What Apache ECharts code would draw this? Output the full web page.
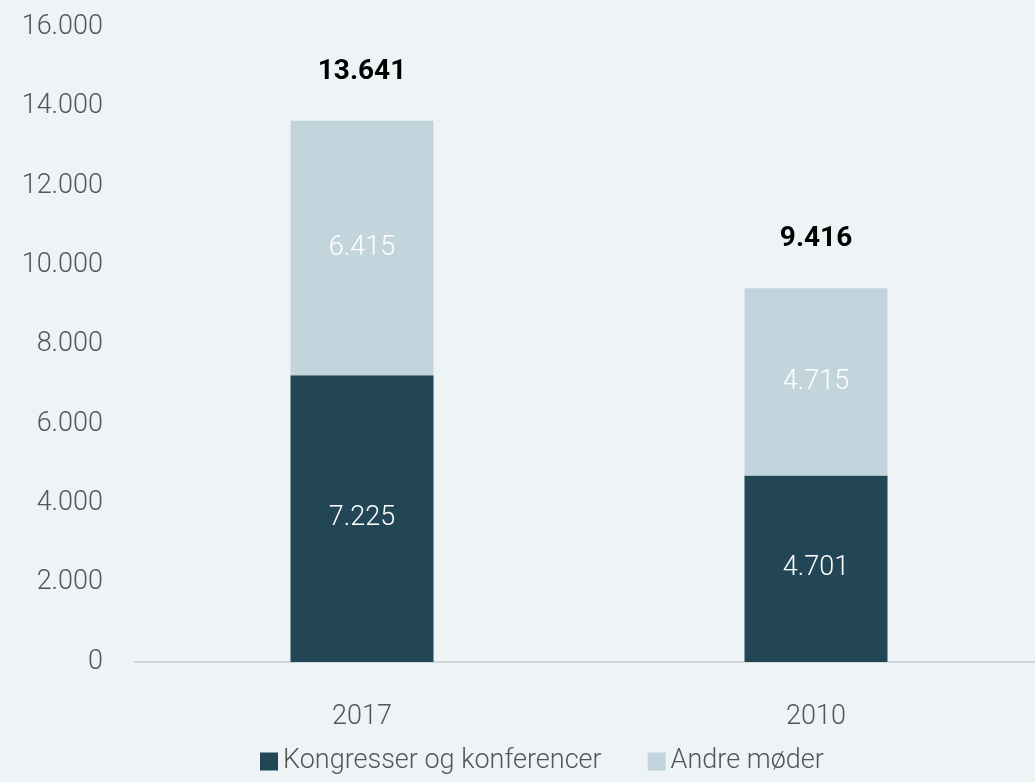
<!DOCTYPE html>
<html>
<head>
<meta charset="utf-8">
<script src="https://cdn.jsdelivr.net/npm/echarts@6/dist/echarts.min.js"></script>
<style>
  html, body { margin: 0; padding: 0; background: #eef3f6; }
  #chart { width: 1035px; height: 782px; }
</style>
</head>
<body>
<div id="chart"></div>
<script>
const years = ['2017', '2010']
const kongresser = [7225, 4701]
const andre = [6415, 4715]
const totals = [13641, 9416]
const yTicks = [0, 2000, 4000, 6000, 8000, 10000, 12000, 14000, 16000]

// dansk tusindtalsseparator
const fmt = v => String(v).replace(/\B(?=(\d{3})+(?!\d))/g, '.')

const font = 'Roboto, "Noto Sans", sans-serif'

const chart = echarts.init(document.getElementById('chart'))
chart.setOption({
  backgroundColor: '#eef3f6',
  animation: false,
  textStyle: { fontFamily: font },
  grid: { left: 135, width: 908, top: 27, bottom: 120, containLabel: false, outerBoundsMode: 'none' },
  legend: {
    bottom: 2,
    left: 255,
    itemWidth: 18,
    itemHeight: 18,
    itemGap: 46,
    icon: 'rect',
    textStyle: { fontSize: 27, color: '#555', fontWeight: 300, fontFamily: font },
    data: ['Kongresser og konferencer', 'Andre møder']
  },
  xAxis: {
    type: 'category',
    data: years,
    axisLine: { lineStyle: { color: '#cfd6da', width: 2 } },
    axisTick: { show: false },
    axisLabel: { fontSize: 27, color: '#555', fontWeight: 300, margin: 42 }
  },
  yAxis: {
    type: 'value',
    min: yTicks[0],
    max: yTicks[yTicks.length - 1],
    interval: 2000,
    splitLine: { show: false },
    axisLine: { show: false },
    axisTick: { show: false },
    axisLabel: {
      fontSize: 27, color: '#555', fontWeight: 300, margin: 32,
      padding: [6, 0, 0, 0],
      formatter: fmt
    }
  },
  series: [
    {
      name: 'Kongresser og konferencer',
      type: 'bar',
      stack: 'total',
      barWidth: 143,
      data: kongresser,
      itemStyle: { color: '#224656' },
      label: {
        show: true,
        position: 'inside',
        color: '#fff',
        fontSize: 27,
        fontWeight: 300,
        formatter: p => fmt(p.value)
      }
    },
    {
      name: 'Andre møder',
      type: 'bar',
      stack: 'total',
      barWidth: 143,
      data: andre,
      itemStyle: { color: '#c3d5dc' },
      label: {
        show: true,
        position: 'inside',
        color: '#fff',
        fontSize: 27,
        fontWeight: 300,
        formatter: p => fmt(p.value)
      }
    },
    {
      // totaler over søjlerne
      name: 'total',
      type: 'bar',
      stack: 'total',
      barWidth: 143,
      data: totals.map(() => 0),
      itemStyle: { color: 'transparent' },
      label: {
        show: true,
        position: 'top',
        distance: 35,
        color: '#000',
        fontSize: 28,
        fontWeight: 'bold',
        formatter: p => fmt(totals[p.dataIndex])
      }
    }
  ]
})
</script>
</body>
</html>
